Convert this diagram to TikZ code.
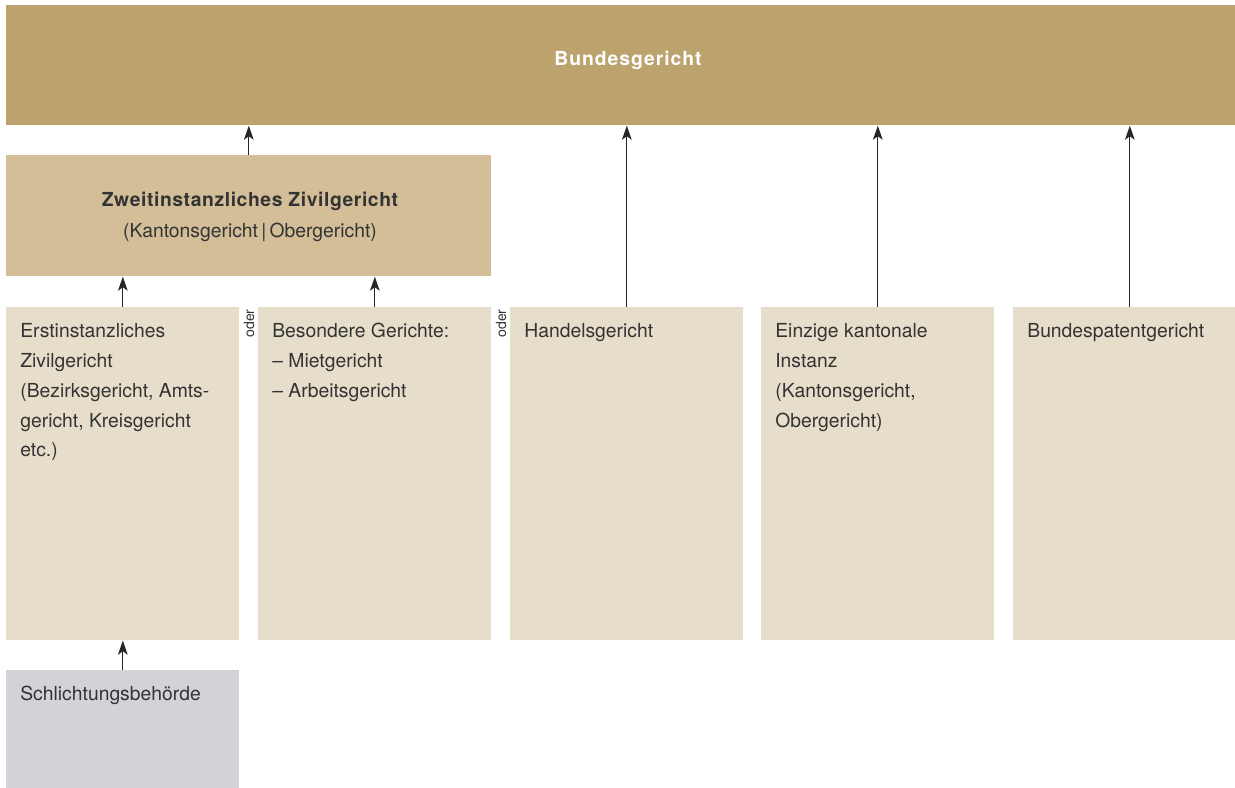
\documentclass[tikz,border=0pt]{standalone}
\usepackage{fontspec}
\setmainfont{TeX Gyre Heros}
\usetikzlibrary{positioning,arrows.meta}

\definecolor{bundgold}{HTML}{BCA36E}
\definecolor{zweitsand}{HTML}{D3BE98}
\definecolor{instbeige}{HTML}{E6DECA}
\definecolor{schlichtgrau}{HTML}{D2D3D6}
\definecolor{textgrau}{HTML}{333333}

\begin{document}
\begin{tikzpicture}[x=0.02cm, y=-0.02cm,
    courtbox/.style={rectangle, fill=instbeige, inner sep=0, anchor=north west, minimum width=4.66cm, minimum height=6.66cm},
    courttext/.style={anchor=north west, inner sep=0, align=left, text=textgrau, font=\fontsize{11}{17}\selectfont},
    odertext/.style={rotate=90, anchor=east, inner sep=0, text=textgrau, font=\fontsize{8}{9}\selectfont},
    upline/.style={-{Stealth[length=8pt, width=5.5pt, inset=2pt]}, line width=0.6pt, draw=black!85}]

    \useasboundingbox (0,0) rectangle (1235,788);

    % Bundesgericht
    \node[rectangle, fill=bundgold, inner sep=0, anchor=north west, minimum width=24.58cm, minimum height=2.4cm] (bund) at (6,5) {};
    \node[text=white, font=\fontsize{11}{12}\selectfont\bfseries\addfontfeatures{LetterSpace=5}, inner sep=0] (bundlabel) at (628,60) {Bundesgericht};

    % Zweitinstanz
    \node[rectangle, fill=zweitsand, inner sep=0, anchor=north west, minimum width=9.7cm, minimum height=2.42cm] (zweit) at (6,155) {};
    \node[align=center, inner sep=0, text=textgrau, font=\fontsize{11}{18}\selectfont] (zweitlabel) at (250,217)
        {{\bfseries\addfontfeatures{LetterSpace=3}Zweitinstanzliches Zivilgericht}\\(Kantonsgericht\,|\,Obergericht)};

    % erste Instanzen
    \node[courtbox] (erst) at (6,307) {};
    \node[courtbox] (besond) at (258,307) {};
    \node[courtbox] (handel) at (510,307) {};
    \node[courtbox] (einzig) at (761,307) {};
    \node[courtbox] (patent) at (1013,307) {};

    \node[courttext] (erstlabel) at (20,323) {Erstinstanzliches\\Zivilgericht\\(Bezirksgericht, Amts-\\gericht, Kreisgericht\\etc.)};
    \node[courttext] (besondlabel) at (272,323) {Besondere Gerichte:\\– Mietgericht\\– Arbeitsgericht};
    \node[courttext] (handellabel) at (524,323) {Handelsgericht};
    \node[courttext] (einziglabel) at (775,323) {Einzige kantonale\\Instanz\\(Kantonsgericht,\\Obergericht)};
    \node[courttext] (patentlabel) at (1027,323) {Bundespatentgericht};

    \node[odertext] (oder1) at (249,309) {oder};
    \node[odertext] (oder2) at (501,309) {oder};

    % Schlichtung
    \node[courtbox, fill=schlichtgrau, minimum height=2.36cm] (schlicht) at (6,670) {};
    \node[courttext] (schlichtlabel) at (20,686) {Schlichtungsbehörde};

    % Instanzenzug
    \draw[upline] (zweit.north) -- (zweit.north |- bund.south);
    \draw[upline] (erst.north) -- (erst.north |- zweit.south);
    \draw[upline] (besond.north) -- (besond.north |- zweit.south);
    \draw[upline] (handel.north) -- (handel.north |- bund.south);
    \draw[upline] (einzig.north) -- (einzig.north |- bund.south);
    \draw[upline] (patent.north) -- (patent.north |- bund.south);
    \draw[upline] (schlicht.north) -- (erst.south);

\end{tikzpicture}
\end{document}
